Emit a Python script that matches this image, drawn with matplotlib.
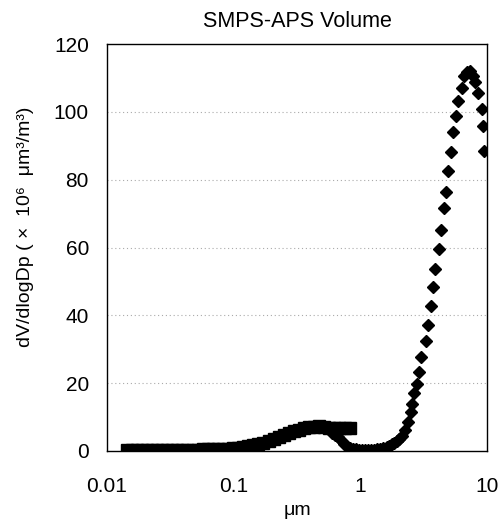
import matplotlib
matplotlib.use("Agg")
import matplotlib.pyplot as plt

plt.rcParams['font.family'] = ['Liberation Sans', 'DejaVu Sans']

# SMPS size distribution (diameter in um, dV/dlogDp)
smps_d = [0.01429, 0.01567, 0.01718, 0.01884, 0.02065, 0.02265, 0.02483, 0.02723,
          0.02985, 0.03273, 0.03589, 0.03936, 0.04315, 0.04732, 0.05188, 0.05689,
          0.06237, 0.06839, 0.07499, 0.08222, 0.09016, 0.09886, 0.1084, 0.1189,
          0.1303, 0.1429, 0.1567, 0.1718, 0.1884, 0.2065, 0.2265, 0.2483,
          0.2723, 0.2985, 0.3273, 0.3589, 0.3936, 0.4315, 0.4732, 0.5188,
          0.5689, 0.6237, 0.6839, 0.7499, 0.8222]
smps_v = [0.2, 0.2, 0.2, 0.2, 0.25, 0.25, 0.25, 0.3,
          0.3, 0.3, 0.3, 0.35, 0.35, 0.4, 0.4, 0.45,
          0.5, 0.5, 0.55, 0.6, 0.7, 0.8, 0.95, 1.15,
          1.4, 1.7, 2.1, 2.5, 3.0, 3.6, 4.1, 4.7,
          5.3, 5.8, 6.3, 6.7, 7.0, 7.2, 7.3, 7.1,
          6.9, 6.9, 6.9, 6.9, 6.8]

# APS size distribution (diameter in um, dV/dlogDp)
aps_d = [0.597, 0.630, 0.666, 0.703, 0.742, 0.784, 0.828, 0.874, 0.923, 0.975,
         1.030, 1.087, 1.148, 1.212, 1.280, 1.352, 1.428, 1.508, 1.61, 1.682,
         1.77, 1.842, 1.93, 2.017, 2.12, 2.25, 2.39, 2.49, 2.577, 2.673,
         2.797, 2.928, 3.035, 3.27, 3.40, 3.61, 3.76, 3.92, 4.20, 4.33,
         4.57, 4.74, 4.89, 5.19, 5.41, 5.68, 5.93, 6.30, 6.57, 6.94,
         7.32, 7.74, 8.10, 8.52, 9.06, 9.23, 9.50]
aps_v = [5.3, 4.8, 4.0, 3.1, 2.2, 1.4, 0.9, 0.6, 0.5, 0.4,
         0.4, 0.4, 0.4, 0.4, 0.4, 0.5, 0.6, 0.8, 1.1, 1.5,
         2.0, 2.4, 3.0, 3.6, 4.4, 6.2, 8.6, 11.5, 14.0, 17.0,
         19.8, 23.3, 27.8, 32.4, 37.1, 42.7, 48.3, 53.8, 59.6, 65.2,
         71.5, 76.5, 82.6, 88.3, 94.0, 98.8, 103.2, 107.1, 110.6, 111.8,
         112.1, 110.6, 108.8, 105.6, 100.9, 95.8, 88.5]

y_ticks = [0, 20, 40, 60, 80, 100, 120]
x_ticks = [0.01, 0.1, 1, 10]
x_ticklabels = ["0.01", "0.1", "1", "10"]

fig = plt.figure(figsize=(5.01, 5.20), dpi=100)
ax = fig.add_axes([107/501, 1-451/520, (487-107)/501, (451-44)/520])

ax.set_xscale('log')
ax.set_xlim(0.01, 10)
ax.set_ylim(0, 120)

for g in y_ticks[1:-1]:
    ax.axhline(g, color='#aaaaaa', lw=0.8, ls=(0, (1, 2.5)), zorder=0)

ax.plot(smps_d, smps_v, ls='none', marker='s', ms=8, color='black', zorder=3)
ax.plot(aps_d, aps_v, ls='none', marker='D', ms=6.3, color='black', zorder=3)

ax.set_xticks(x_ticks)
ax.set_xticklabels(x_ticklabels)
ax.xaxis.set_minor_locator(matplotlib.ticker.NullLocator())
ax.set_yticks(y_ticks)
ax.tick_params(length=0, labelsize=15)
ax.tick_params(axis='x', pad=19)
ax.tick_params(axis='y', pad=13)
for s in ax.spines.values():
    s.set_linewidth(1.0)

ax.set_title("SMPS-APS Volume", fontsize=15.5, pad=12)
ax.set_xlabel("μm", fontsize=14, labelpad=4)
ax.set_ylabel("dV/dlogDp ( ×  10⁶  μm³/m³)", fontsize=14)
ax.yaxis.set_label_coords(-0.192, 0.55)

fig.savefig("out.png", dpi=100)
